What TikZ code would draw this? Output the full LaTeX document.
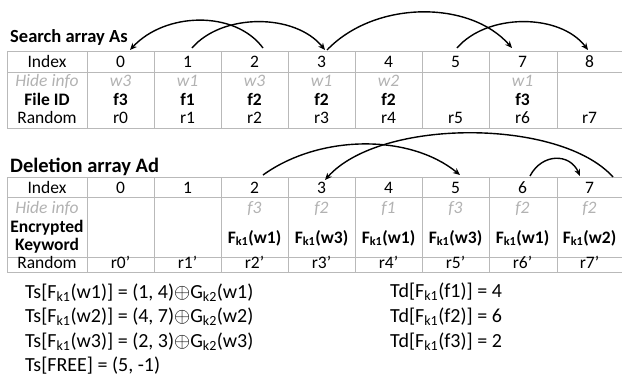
\documentclass[tikz,border=0pt]{standalone}
\usepackage{fontspec}
\setmainfont{Carlito}
\usetikzlibrary{arrows.meta}
\begin{document}
\begin{tikzpicture}[x=1pt,y=-1pt,
 grid/.style={draw=gray!55, line width=0.9pt},
 cell/.style={anchor=base, inner sep=0pt, font=\fontsize{17.5}{19}\selectfont},
 hide/.style={anchor=base, inner sep=0pt, text=gray!60, font=\fontsize{17.5}{19}\selectfont\itshape},
 bcell/.style={anchor=base, inner sep=0pt, font=\fontsize{17.5}{19}\selectfont\bfseries},
 ttl/.style={anchor=base west, inner sep=0pt, font=\fontsize{18.5}{20}\selectfont\bfseries},
 formula/.style={anchor=base west, inner sep=0pt, font=\fontsize{20}{22}\selectfont},
 arc/.style={line width=1.4pt, -{Stealth[length=7pt,width=6pt]}}]
\useasboundingbox (0,0) rectangle (622,384);
% ---------- Search array
\node[ttl] (t1) at (10,42) {Search array As};
\draw[grid] (7,51) rectangle (624,128);
\draw[grid] (7,72) -- (624,72);
\foreach \xv in {87,154,221,288,355,422,489,557} \draw[grid] (\xv,51) -- (\xv,128);
\node[cell] (sl1) at (47,67) {Index};
\node[hide] (sl2) at (47,86) {Hide info};
\node[bcell] (sl3) at (47,105) {File ID};
\node[cell] (sl4) at (47,123) {Random};
\foreach \t [count=\i from 0] in {0,1,2,3,4,5,7,8}{
  \pgfmathsetmacro\xc{120.5+67*\i}
  \node[cell] (si\i) at (\xc,67) {\t};}
\foreach \t [count=\i from 0] in {w3,w1,w3,w1,w2,{},w1,{}}{
  \pgfmathsetmacro\xc{120.5+67*\i}
  \node[hide] (sh\i) at (\xc,86) {\t};}
\foreach \t [count=\i from 0] in {f3,f1,f2,f2,f2,{},f3,{}}{
  \pgfmathsetmacro\xc{120.5+67*\i}
  \node[bcell] (sf\i) at (\xc,105) {\t};}
\foreach \t [count=\i from 0] in {r0,r1,r2,r3,r4,r5,r6,r7}{
  \pgfmathsetmacro\xc{120.5+67*\i}
  \node[cell] (sr\i) at (\xc,123) {\t};}
% arc end points
\coordinate (sa2) at (263,48);
\coordinate (sa0) at (130,50);
\coordinate (sa1) at (192,48);
\coordinate (sa3in) at (325,50);
\coordinate (sa3out) at (327,50);
\coordinate (sa7) at (512,48);
\coordinate (sa5) at (457,48);
\coordinate (sa8) at (588,50);
\draw[arc] (sa2) .. controls (235,10) and (165,12) .. (sa0);
\draw[arc] (sa1) .. controls (222,13) and (295,13) .. (sa3in);
\draw[arc] (sa3out) .. controls (375,0) and (470,0) .. (sa7);
\draw[arc] (sa5) .. controls (487,13) and (560,13) .. (sa8);
% ---------- Deletion array
\node[ttl, font=\fontsize{20.5}{22}\selectfont\bfseries] (t2) at (10,172) {Deletion array Ad};
\draw[grid] (7,177) rectangle (624,272);
\draw[grid] (7,197) -- (624,197);
\draw[grid] (7,257) -- (624,257);
\foreach \xv in {87,154,221,288,355,422,489,557} \draw[grid] (\xv,177) -- (\xv,272);
\node[cell] (dl1) at (47,193) {Index};
\node[hide] (dl2) at (47,213) {Hide info};
\node[bcell] (dl3) at (47,232) {Encrypted};
\node[bcell] (dl4) at (47,250) {Keyword};
\node[cell] (dl5) at (47,268) {Random};
\foreach \t [count=\i from 0] in {0,1,2,3,4,5,6,7}{
  \pgfmathsetmacro\xc{120.5+67*\i}
  \node[cell] (di\i) at (\xc,193) {\t};}
\foreach \t [count=\i from 0] in {{},{},f3,f2,f1,f3,f2,f2}{
  \pgfmathsetmacro\xc{120.5+67*\i}
  \node[hide] (dh\i) at (\xc,213) {\t};}
\foreach \t [count=\i from 0] in {{},{},w1,w3,w1,w3,w1,w2}{
  \pgfmathsetmacro\xc{120.5+67*\i}
  \ifx\t\empty\else
  \node[bcell] (dk\i) at (\xc,243) {F\textsubscript{k1}(\t)};\fi}
\foreach \t [count=\i from 0] in {r0',r1',r2',r3',r4',r5',r6',r7'}{
  \pgfmathsetmacro\xc{120.5+67*\i}
  \node[cell] (dr\i) at (\xc,268) {\t};}
\coordinate (da2) at (263,175);
\coordinate (da5) at (460,175);
\coordinate (da7) at (613,177);
\coordinate (da3) at (325,180);
\coordinate (da6) at (530,176);
\coordinate (da7in) at (580,176);
\draw[arc] (da2) .. controls (320,134) and (410,134) .. (da5);
\draw[arc] (da7) .. controls (560,118) and (380,118) .. (da3);
\draw[arc] (da6) .. controls (542,153) and (570,153) .. (da7in);
% ---------- formulas
\node[formula] (f1) at (25,298) {Ts[F\textsubscript{k1}(w1)] = (1, 4)$\oplus$G\textsubscript{k2}(w1)};
\node[formula] (f2) at (25,322) {Ts[F\textsubscript{k1}(w2)] = (4, 7)$\oplus$G\textsubscript{k2}(w2)};
\node[formula] (f3) at (25,347) {Ts[F\textsubscript{k1}(w3)] = (2, 3)$\oplus$G\textsubscript{k2}(w3)};
\node[formula] (f4) at (25,371) {Ts[FREE] = (5, -1)};
\node[formula] (g1) at (390,297) {Td[F\textsubscript{k1}(f1)] = 4};
\node[formula] (g2) at (390,322) {Td[F\textsubscript{k1}(f2)] = 6};
\node[formula] (g3) at (390,347) {Td[F\textsubscript{k1}(f3)] = 2};
\end{tikzpicture}
\end{document}
